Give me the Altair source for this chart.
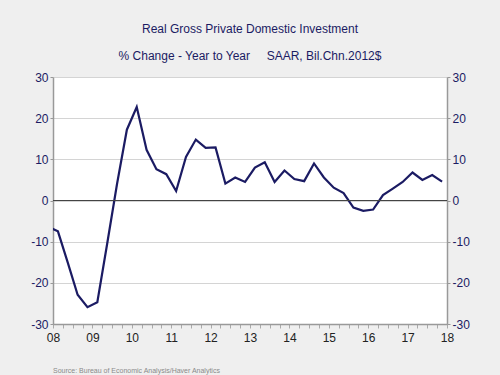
import altair as alt
import pandas as pd

# Quarterly data (mid-quarter positions), 2007Q4 is clipped at the left edge
quarters = ["2007Q4",
            "2008Q1", "2008Q2", "2008Q3", "2008Q4",
            "2009Q1", "2009Q2", "2009Q3", "2009Q4",
            "2010Q1", "2010Q2", "2010Q3", "2010Q4",
            "2011Q1", "2011Q2", "2011Q3", "2011Q4",
            "2012Q1", "2012Q2", "2012Q3", "2012Q4",
            "2013Q1", "2013Q2", "2013Q3", "2013Q4",
            "2014Q1", "2014Q2", "2014Q3", "2014Q4",
            "2015Q1", "2015Q2", "2015Q3", "2015Q4",
            "2016Q1", "2016Q2", "2016Q3", "2016Q4",
            "2017Q1", "2017Q2", "2017Q3", "2017Q4"]
values = [-6.3,
          -7.5, -15.1, -22.9, -25.9,
          -24.7, -10.5, 4.0, 17.2,
          22.7, 12.3, 7.6, 6.4,
          2.3, 10.6, 14.8, 12.8,
          12.9, 4.1, 5.6, 4.5,
          8.0, 9.3, 4.5, 7.3,
          5.2, 4.7, 9.0, 5.6,
          3.1, 1.8, -1.7, -2.5,
          -2.2, 1.3, 2.9, 4.5,
          6.8, 5.0, 6.2, 4.6]
year_ticks = list(range(2008, 2019))
y_ticks = [-30, -20, -10, 0, 10, 20, 30]

def qpos(q):
    y, n = q.split("Q")
    return int(y) + (int(n) - 1) / 4 + 0.125

df = pd.DataFrame({"t": [qpos(q) for q in quarters], "v": values})
tick_vals = [y + k / 4 for y in year_ticks[:-1] for k in range(4)] + [year_ticks[-1]]

NAVY = "#1b1b63"
FONT = "Liberation Sans"
W, H = 394, 247

xscale = alt.Scale(domain=[2008, 2018], nice=False, zero=False)
yscale = alt.Scale(domain=[-30, 30], nice=False)

xaxis = alt.Axis(values=tick_vals,
                 labelExpr="datum.value % 1 == 0 ? slice(toString(datum.value), 2) : ''",
                 title=None, grid=False, tickSize=4, tickColor="#aaaaaa",
                 domainColor="#999999", domainWidth=1.5, labelColor="#222222",
                 labelFontSize=12, labelFont=FONT, labelPadding=4, labelFlush=False)

def yaxis(orient, grid):
    return alt.Axis(values=y_ticks, title=None, grid=grid, gridColor="#d4d4d4",
                    gridWidth=1, tickSize=3, tickColor="#999999",
                    domainColor="#999999", domainWidth=1.5, labelColor=NAVY,
                    labelFontSize=12, labelFont=FONT, labelPadding=2,
                    labelExpr="toString(datum.value)", orient=orient)

line = alt.Chart(df).mark_line(color=NAVY, strokeWidth=2.2, clip=True).encode(
    x=alt.X("t:Q", scale=xscale, axis=xaxis),
    y=alt.Y("v:Q", scale=yscale, axis=yaxis("left", True)),
)

zero = alt.Chart(pd.DataFrame({"z": [0]})).mark_rule(color="#444444", strokeWidth=1).encode(
    y=alt.Y("z:Q", scale=yscale, axis=None)
)

right = alt.Chart(pd.DataFrame({"z": [0]})).mark_rule(opacity=0).encode(
    y=alt.Y("z:Q", scale=yscale, axis=yaxis("right", False))
)

source = alt.Chart(pd.DataFrame({"s": ["Source:  Bureau of Economic Analysis/Haver Analytics"]})).mark_text(
    align="left", baseline="middle", fontSize=7, font=FONT, color="#8a8a8a"
).encode(x=alt.value(0), y=alt.value(H + 47), text="s:N")

chart = alt.layer(line, zero, right, source).resolve_scale(y="independent").properties(
    width=W, height=H,
    title=alt.TitleParams(
        text="Real Gross Private Domestic Investment",
        subtitle="% Change - Year to Year\u00a0\u00a0\u00a0\u00a0\u00a0SAAR, Bil.Chn.2012$",
        fontSize=12, font=FONT, color=NAVY, fontWeight="normal",
        subtitleFontSize=12, subtitleFont=FONT, subtitleColor=NAVY,
        subtitlePadding=15, offset=8, anchor="middle"),
    autosize=alt.AutoSizeParams(type="none"),
    padding={"left": 53, "top": 77, "right": 53, "bottom": 51},
    background="#efefef",
).configure_view(fill="white", stroke=None)

chart.save("out.html", embed_options={"renderer": "svg", "actions": False})
